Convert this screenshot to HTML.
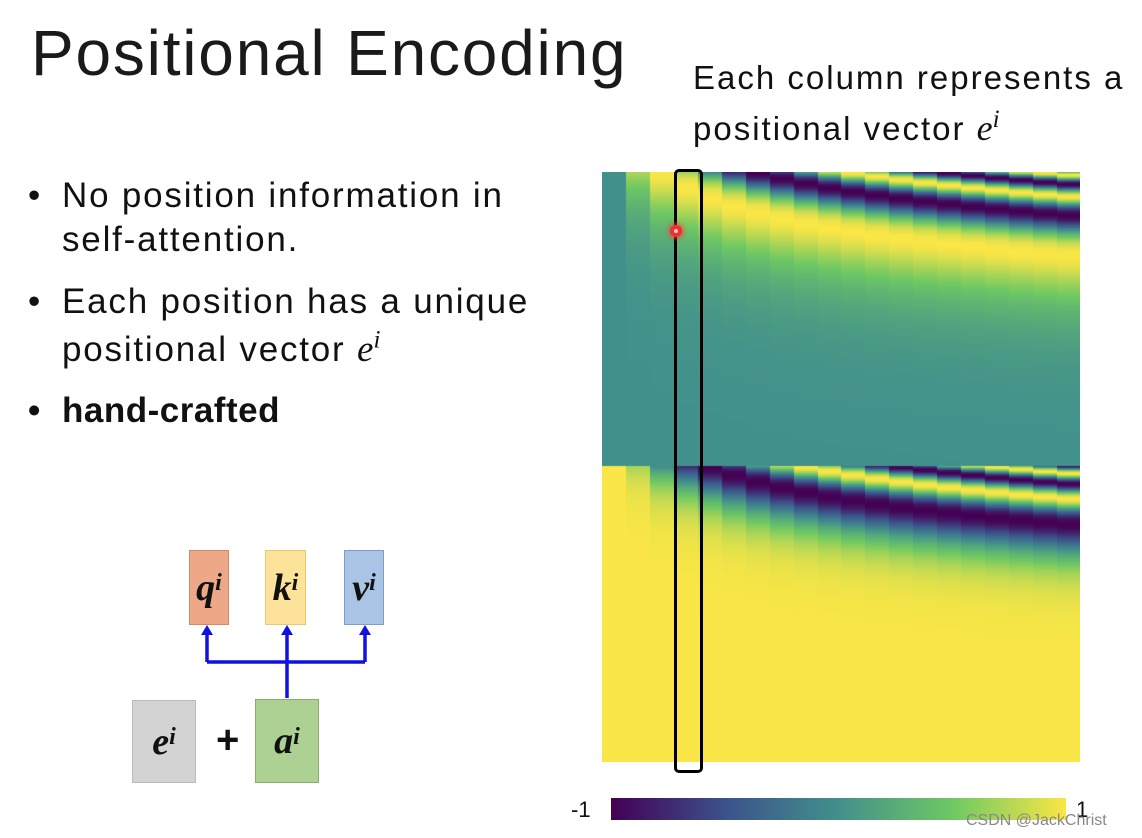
<!DOCTYPE html>
<html><head><meta charset="utf-8"><style>
body{margin:0;width:1142px;height:838px;background:#fff;position:relative;overflow:hidden;font-family:"Liberation Sans","DejaVu Sans",sans-serif;color:#111}
.a{position:absolute;white-space:nowrap}
.m{font-family:"Liberation Serif",serif;font-style:italic;letter-spacing:0}
.m sup{line-height:0}
.box{position:absolute;box-sizing:border-box;display:flex;align-items:center;justify-content:center;font-family:"Liberation Serif",serif;font-style:italic;font-weight:bold;font-size:38px}
.box sup{font-size:24px;position:relative;top:-4px;vertical-align:top}
.t{font-size:35px;letter-spacing:1.8px}
</style></head><body>
<div class="a" style="left:31px;top:16px;font-size:64px;letter-spacing:1.8px;color:#1a1a1a">Positional Encoding</div>
<div class="a" style="left:693px;top:52px;font-size:33px;line-height:51px;letter-spacing:2px">Each column represents a</div>
<div class="a" style="left:693px;top:103px;font-size:33px;line-height:51px;letter-spacing:2px">positional vector <span class="m" style="font-size:36px">e<sup style="font-size:25px">i</sup></span></div>
<div class="a t" style="left:28px;top:174px;line-height:44px">•</div>
<div class="a t" style="left:62px;top:174px;line-height:44px">No position information in</div>
<div class="a t" style="left:62px;top:218px;line-height:44px">self-attention.</div>
<div class="a t" style="left:28px;top:280px;line-height:44px">•</div>
<div class="a t" style="left:62px;top:280px;line-height:44px">Each position has a unique</div>
<div class="a t" style="left:62px;top:328px;line-height:44px">positional vector <span class="m" style="font-size:37px">e<sup style="font-size:25px">i</sup></span></div>
<div class="a t" style="left:28px;top:389px;line-height:44px;font-weight:bold">•</div>
<div class="a t" style="left:62px;top:389px;line-height:44px;font-weight:bold;letter-spacing:0.5px">hand-crafted</div>

<div class="box" style="left:189px;top:550px;width:40px;height:75px;background:#eda888;border:1px solid #d08a6a">q<sup>i</sup></div>
<div class="box" style="left:265px;top:550px;width:41px;height:75px;background:#fde399;border:1px solid #e8c870">k<sup>i</sup></div>
<div class="box" style="left:344px;top:550px;width:40px;height:75px;background:#a9c4e4;border:1px solid #7e9cc4">v<sup>i</sup></div>
<div class="box" style="left:132px;top:700px;width:64px;height:83px;background:#d3d3d3;border:1px solid #bbb">e<sup>i</sup></div>
<div class="a" style="left:216px;top:718px;font-size:40px;font-weight:bold">+</div>
<div class="box" style="left:255px;top:699px;width:64px;height:84px;background:#acd193;border:1px solid #89ad70">a<sup>i</sup></div>
<svg class="a" style="left:0;top:0" width="1142" height="838">
<g stroke="#1010e0" stroke-width="3.5" fill="none">
<path d="M287 698V628M207 662H365M207 662V632M365 662V632"/></g>
<g fill="#1010e0"><path d="M201 635L207 625L213 635Z"/><path d="M281 635L287 625L293 635Z"/><path d="M359 635L365 625L371 635Z"/></g>
</svg>
<canvas id="c" width="478" height="590" style="position:absolute;left:602px;top:172px"></canvas>
<canvas id="cb" width="455" height="22" style="position:absolute;left:611px;top:798px"></canvas>
<div class="a" style="left:674px;top:169px;width:29px;height:604px;border:3px solid #000;border-radius:5px;box-sizing:border-box"></div>
<div class="a" style="left:670px;top:225px;width:12px;height:12px;border-radius:50%;background:#f03030;box-shadow:0 0 5px 2px rgba(255,60,60,.7)"><div style="margin:4px;width:4px;height:4px;border-radius:50%;background:#ffd0d0"></div></div>
<div class="a" style="left:571px;top:797px;font-size:22px">-1</div>
<div class="a" style="left:1076px;top:797px;font-size:22px">1</div>
<div class="a" style="left:966px;top:812px;font-size:16px;color:#888">CSDN @JackChrist</div>
<script>
(function(){
var V=[[-1,[68,1,84]],[-0.5,[59,82,139]],[0,[66,144,140]],[0.5,[110,200,100]],[1,[250,230,70]]];
function col(v){for(var k=0;k<4;k++){var a=V[k],b=V[k+1];if(v<=b[0]||k==3){var t=Math.max(0,Math.min(1,(v-a[0])/(b[0]-a[0])));return [a[1][0]+(b[1][0]-a[1][0])*t,a[1][1]+(b[1][1]-a[1][1])*t,a[1][2]+(b[1][2]-a[1][2])*t];}}}
var c=document.getElementById('c').getContext('2d');var W=478,H=590,h=294;
var img=c.createImageData(W,H);
for(var y=0;y<H;y++){var isTop=y<h;var f=(isTop?y:y-h)/h;var w=0.8*Math.exp(-8*f);
for(var x=0;x<W;x++){var i=Math.floor(x/23.9);var v=isTop?Math.sin(i*w):Math.cos(i*w);var p=col(v);var o=(y*W+x)*4;img.data[o]=p[0];img.data[o+1]=p[1];img.data[o+2]=p[2];img.data[o+3]=255;}}
c.putImageData(img,0,0);
var b=document.getElementById('cb').getContext('2d');var im=b.createImageData(455,22);
for(var x=0;x<455;x++){var p=col(-1+2*x/454);for(var y=0;y<22;y++){var o=(y*455+x)*4;im.data[o]=p[0];im.data[o+1]=p[1];im.data[o+2]=p[2];im.data[o+3]=255;}}
b.putImageData(im,0,0);
})();
</script>
</body></html>
